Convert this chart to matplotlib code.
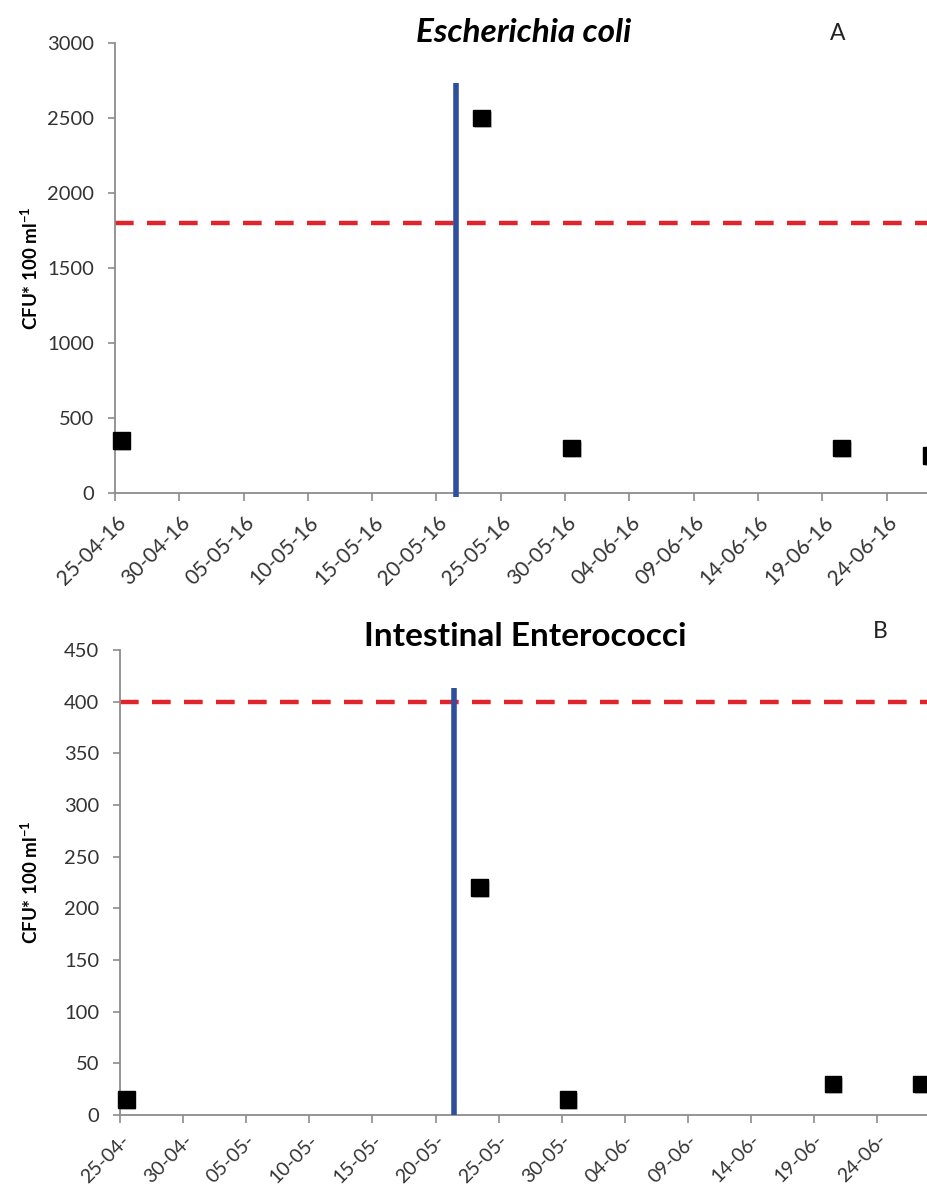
import matplotlib
matplotlib.use("Agg")
import matplotlib.pyplot as plt
import matplotlib.dates as mdates
import matplotlib.transforms as mtransforms
import matplotlib.patheffects as pe

# ---------------- data ----------------
sample_dates = ["2016-04-25", "2016-05-23", "2016-05-30", "2016-06-20", "2016-06-27"]
ecoli_values = [350, 2500, 300, 300, 250]
entero_values = [15, 220, 15, 30, 30]
intervention_date = "2016-05-21"
ecoli_limit = 1800
entero_limit = 400
tick_dates = ["2016-04-25", "2016-04-30", "2016-05-05", "2016-05-10", "2016-05-15",
              "2016-05-20", "2016-05-25", "2016-05-30", "2016-06-04", "2016-06-09",
              "2016-06-14", "2016-06-19", "2016-06-24"]
tick_labels_a = ["25-04-16", "30-04-16", "05-05-16", "10-05-16", "15-05-16", "20-05-16",
                 "25-05-16", "30-05-16", "04-06-16", "09-06-16", "14-06-16", "19-06-16",
                 "24-06-16"]
tick_labels_b = ["25-04-", "30-04-", "05-05-", "10-05-", "15-05-", "20-05-",
                 "25-05-", "30-05-", "04-06-", "09-06-", "14-06-", "19-06-", "24-06-"]
yticks_a = [0, 500, 1000, 1500, 2000, 2500, 3000]
yticks_b = [0, 50, 100, 150, 200, 250, 300, 350, 400, 450]

plt.rcParams['font.family'] = ['Lato', 'DejaVu Sans']
plt.rcParams['mathtext.fontset'] = 'custom'
plt.rcParams['mathtext.rm'] = 'Lato'
plt.rcParams['mathtext.bf'] = 'Lato:bold'

W, H = 928, 1189
fig = plt.figure(figsize=(W / 100, H / 100), dpi=100)

AX_GRAY = '#8c8c8c'
TXT = '#333333'
BLUE = '#2f4f9e'
RED = '#e0242b'

x_samples = mdates.datestr2num(sample_dates) + 0.5   # Excel centres points in the day slot
x_ticks = mdates.datestr2num(tick_dates)
x_int = mdates.datestr2num(intervention_date) + 0.5
d0 = x_ticks[0]
span_days = 66


def setup(ax, yticks, ylim, labels, xsize, dx, dy):
    ax.set_xlim(d0, d0 + span_days)
    ax.set_ylim(*ylim)
    for s in ['top', 'right']:
        ax.spines[s].set_visible(False)
    for s in ['left', 'bottom']:
        ax.spines[s].set_color(AX_GRAY)
        ax.spines[s].set_linewidth(1.3)
    ax.set_yticks(yticks)
    ax.set_yticklabels([str(v) for v in yticks])
    ax.set_xticks(x_ticks)
    ax.set_xticklabels(labels)
    ax.tick_params(axis='y', length=5, width=1.2, color=AX_GRAY, labelsize=14.5,
                   labelcolor=TXT, pad=10)
    ax.tick_params(axis='x', length=6, width=1.2, color=AX_GRAY, labelsize=xsize,
                   labelcolor=TXT, pad=4)
    off = mtransforms.ScaledTranslation(dx / 72, -dy / 72, fig.dpi_scale_trans)
    for lbl in ax.get_xticklabels():
        lbl.set_rotation(45)
        lbl.set_ha('right')
        lbl.set_va('center')
        lbl.set_rotation_mode('anchor')
        lbl.set_transform(lbl.get_transform() + off)


shadow = [pe.SimplePatchShadow(offset=(1.2, -1.5), shadow_rgbFace='#777777', alpha=0.35),
          pe.Normal()]

# ---------------- panel A ----------------
axA = fig.add_axes([115 / W, (H - 493) / H, span_days * 12.86 / W, 450 / H])
axA.patch.set_alpha(0)
setup(axA, yticks_a, (0, 3000), tick_labels_a, 15, 5.5, 9)
axA.axhline(ecoli_limit, color=RED, lw=3.2, dashes=(4.2, 3.0), zorder=2)
axA.vlines(x_int, -28, 2735, color=BLUE, lw=4.0, zorder=3, clip_on=False)
axA.plot(x_samples, ecoli_values, linestyle='none', marker='s', markersize=12,
         color='black', zorder=4, clip_on=False, path_effects=shadow)

# ---------------- panel B ----------------
axB = fig.add_axes([120 / W, (H - 1115) / H, span_days * 12.62 / W, 465 / H])
axB.patch.set_alpha(0)
setup(axB, yticks_b, (0, 450), tick_labels_b, 14, 4.5, 6)
axB.axhline(entero_limit, color=RED, lw=3.2, dashes=(4.2, 3.0), zorder=2)
axB.vlines(x_int, 0, 413, color=BLUE, lw=4.0, zorder=3, clip_on=False)
axB.plot(x_samples, entero_values, linestyle='none', marker='s', markersize=12,
         color='black', zorder=4, clip_on=False, path_effects=shadow)

# ---------------- titles / labels ----------------
fig.text(524 / W, 1 - 33 / H, 'Escherichia coli', ha='center', va='center',
         fontsize=24, fontweight='bold', fontstyle='italic', color='black')
fig.text(838 / W, 1 - 33 / H, 'A', ha='center', va='center', fontsize=16.5, color='#222222')
fig.text(525 / W, 1 - 637 / H, 'Intestinal Enterococci', ha='center', va='center',
         fontsize=24, fontweight='bold', color='black')
fig.text(880 / W, 1 - 632 / H, 'B', ha='center', va='center', fontsize=16.5, color='#222222')

ylab = r'CFU* 100 ml$^{\mathbf{-1}}$'
fig.text(30 / W, 1 - 268 / H, ylab, rotation=90, ha='center', va='center',
         fontsize=13.5, fontweight='bold', color='black')
fig.text(30 / W, 1 - 882 / H, ylab, rotation=90, ha='center', va='center',
         fontsize=13.5, fontweight='bold', color='black')

fig.savefig('out.png', dpi=100)
